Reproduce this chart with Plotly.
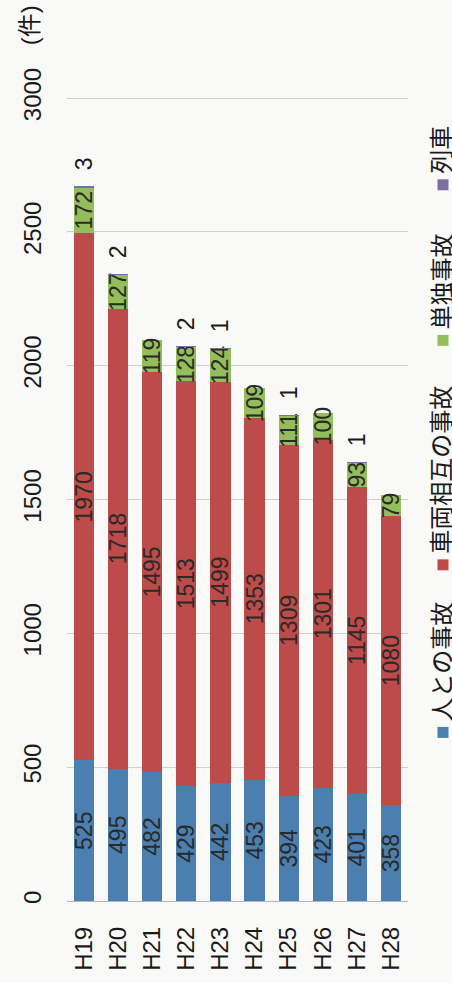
import plotly.graph_objects as go

categories = ["H19", "H20", "H21", "H22", "H23", "H24", "H25", "H26", "H27", "H28"]
people = [525, 495, 482, 429, 442, 453, 394, 423, 401, 358]
vehicles = [1970, 1718, 1495, 1513, 1499, 1353, 1309, 1301, 1145, 1080]
single = [172, 127, 119, 128, 124, 109, 111, 100, 93, 79]
train = [3, 2, 0, 2, 1, 0, 1, 0, 1, 0]
series_names = ["人との事故", "車両相互の事故", "単独事故", "列車"]
colors = ["#4a7fb0", "#bd4b49", "#93be5a", "#7b6fa3"]
y_ticks = [0, 500, 1000, 1500, 2000, 2500, 3000]
unit_label = "(件)"

FONT = "Liberation Sans, Arial, Noto Sans CJK JP"
W, H = 452, 983
L, R, T, B = 67, 44, 97, 80

fig = go.Figure()
for name, vals, col in zip(series_names[:3], [people, vehicles, single], colors[:3]):
    fig.add_trace(go.Bar(
        x=categories, y=vals, name=name, marker=dict(color=col, line=dict(width=0)),
        text=[str(v) for v in vals], textposition="inside", insidetextanchor="middle",
        textangle=-90, constraintext="none",
        textfont=dict(family=FONT, size=23, color="#2a2a2a"),
    ))
fig.add_trace(go.Bar(
    x=categories, y=train, name=series_names[3], marker=dict(color=colors[3], line=dict(width=0)),
    text=["\u00a0\u00a0" + str(v) if v else "" for v in train], textposition="outside",
    textangle=-90, constraintext="none", cliponaxis=False,
    textfont=dict(family=FONT, size=23, color="#1a1a1a"),
))

fig.update_layout(
    width=W, height=H, barmode="stack", bargap=0.41,
    margin=dict(l=L, r=R, t=T, b=B, pad=0),
    paper_bgcolor="#f9f9f8", plot_bgcolor="#f9f9f8",
    showlegend=False,
    uniformtext=dict(minsize=23, mode="show"),
    font=dict(family=FONT, color="#1a1a1a"),
    xaxis=dict(
        type="category", tickangle=-90, tickfont=dict(size=24, family=FONT),
        showgrid=False, showline=False, ticks="", ticklen=0, ticklabelstandoff=20,
    ),
    yaxis=dict(
        range=[0, 3004], tickvals=y_ticks, ticktext=[str(v) for v in y_ticks],
        tickangle=-90, tickfont=dict(size=24, family=FONT),
        showgrid=True, gridcolor="#cfcfcf", gridwidth=1,
        zeroline=True, zerolinecolor="#b5b5b5", zerolinewidth=1,
        showline=False, ticks="", ticklabelstandoff=20,
    ),
)

pw, ph = W - L - R, H - T - B
def px_x(px):
    return (px - L) / pw
def px_y(py):
    return (H - B - py) / ph

# unit label
fig.add_annotation(text=unit_label, x=px_x(29), y=px_y(25), xref="paper", yref="paper",
                   textangle=-90, showarrow=False, font=dict(size=24, family=FONT, color="#1a1a1a"),
                   xanchor="center", yanchor="middle")

# rotated legend
legend_sq_y = [734, 566, 341, 185]
for name, col, sy in zip(series_names, colors, legend_sq_y):
    fig.add_shape(type="rect", xref="paper", yref="paper",
                  x0=px_x(437.5), x1=px_x(448.5), y0=px_y(sy + 5.5), y1=px_y(sy - 5.5),
                  fillcolor=col, line=dict(width=0))
    fig.add_annotation(text=name, x=px_x(440), y=px_y(sy - 9), xref="paper", yref="paper",
                       textangle=-90, showarrow=False,
                       font=dict(size=24, family="Noto Sans CJK JP", color="#1a1a1a"),
                       xanchor="center", yanchor="bottom")

fig.write_html("out.html", config={"displayModeBar": False},
               post_script="document.body.style.margin='0';document.body.style.overflow='hidden';")
